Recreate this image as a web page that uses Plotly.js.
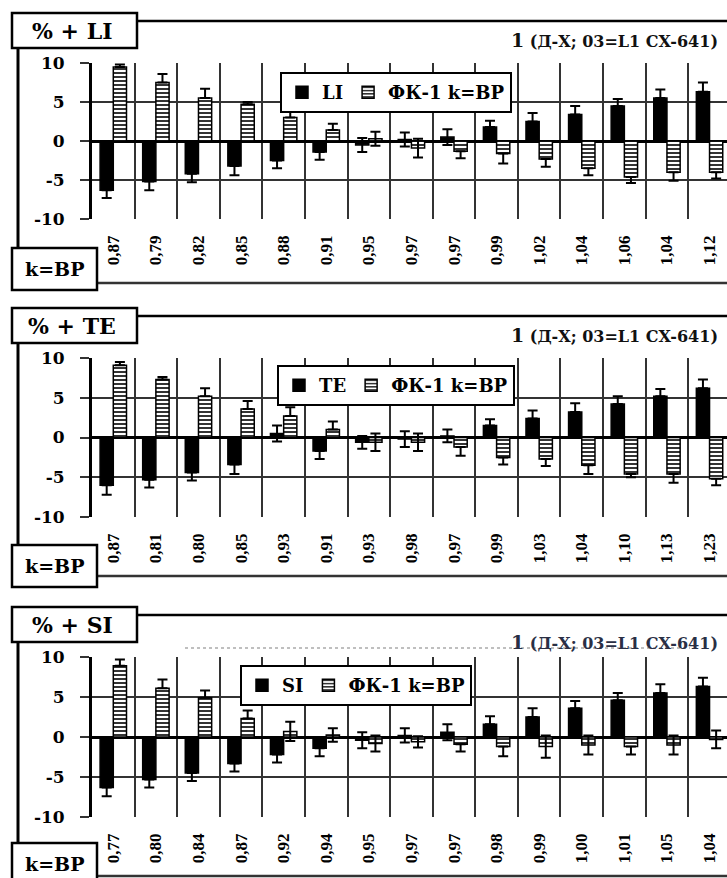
<!DOCTYPE html>
<html>
<head>
<meta charset="utf-8">
<script src="https://cdn.plot.ly/plotly-3.0.1.min.js"></script>
<style>html,body{margin:0;padding:0;background:#fff;}#chart{width:727px;height:878px;}</style>
</head>
<body>
<div id="chart"></div>
<script>
// ---------- data ----------
const cats1 = ['0,87','0,79','0,82','0,85','0,88','0,91','0,95','0,97','0,97','0,99','1,02','1,04','1,06','1,04','1,12'];
const li     = [-6.3,-5.2,-4.2,-3.2,-2.5,-1.4,-0.5,0.2,0.5,1.8,2.5,3.4,4.5,5.5,6.3];
const liErr  = [1.0,1.1,1.1,1.2,1.0,1.0,0.9,0.9,1.0,0.8,1.1,1.1,0.9,1.1,1.2];
const fk1    = [9.5,7.5,5.5,4.7,3.0,1.4,0.3,-0.9,-1.3,-1.6,-2.3,-3.5,-4.6,-4.0,-4.0];
const fk1Err = [0.3,1.1,1.2,0.3,1.0,0.8,0.9,1.2,0.9,1.3,1.0,0.9,0.8,1.1,0.8];

const cats2 = ['0,87','0,81','0,80','0,85','0,93','0,91','0,93','0,98','0,97','0,99','1,03','1,04','1,10','1,13','1,23'];
const te     = [-6.0,-5.3,-4.4,-3.4,0.5,-1.7,-0.6,-0.2,0.2,1.5,2.4,3.2,4.2,5.2,6.2];
const teErr  = [1.2,1.0,1.0,1.2,1.0,1.0,0.8,1.0,0.8,0.8,1.0,1.1,1.0,0.9,1.1];
const fk2    = [9.1,7.3,5.2,3.6,2.7,1.0,-0.6,-0.6,-1.2,-2.5,-2.7,-3.5,-4.6,-4.6,-5.2];
const fk2Err = [0.4,0.3,1.0,1.0,1.1,1.0,1.1,1.1,1.1,0.9,0.9,1.1,0.4,1.1,0.8];

const cats3 = ['0,77','0,80','0,84','0,87','0,92','0,94','0,95','0,97','0,97','0,98','0,99','1,00','1,01','1,05','1,04'];
const si     = [-6.3,-5.3,-4.5,-3.3,-2.2,-1.4,-0.4,0.2,0.6,1.6,2.5,3.6,4.6,5.5,6.3];
const siErr  = [1.1,1.0,1.0,1.0,1.0,1.0,1.0,0.9,1.0,1.0,1.1,0.9,0.9,1.1,1.1];
const fk3    = [8.9,6.1,4.9,2.3,0.7,0.25,-0.8,-0.6,-0.9,-1.2,-1.2,-1.0,-1.2,-1.0,-0.3];
const fk3Err = [0.8,1.1,0.9,1.0,1.2,0.85,1.0,0.7,0.9,1.2,1.4,1.2,1.0,1.2,1.1];

const yTickVals = [-10,-5,0,5,10];
const yTickText = ['-10','-5','0','5','10'];
const fkName = 'ФК-1 k=BP';
const subTitle = '(Д-Х; 03=L1 CX-641)';

// ---------- layout helpers ----------
const W = 727, H = 878;
const px = x => x / W;
const py = y => 1 - y / H;
const SERIF = 'DejaVu Serif';
const TIMES = 'Liberation Serif';

// error bars drawn outward only (inner half hidden as in the original), both ways for tiny bars
const errPlus  = (v, e) => v.map((d, i) => (d >= 0 || Math.abs(d) < e[i]) ? e[i] : 0);
const errMinus = (v, e) => v.map((d, i) => (d < 0 || Math.abs(d) < e[i]) ? e[i] : 0);

const panels = [
  {name:'LI', title:'% + LI', cats:cats1, a:li, ae:liErr, b:fk1, be:fk1Err,
   yTop:63, yBot:219, labelTop:13, kTop:248, bottom:283, subY:40, legX:280, legY:72},
  {name:'TE', title:'% + TE', cats:cats2, a:te, ae:teErr, b:fk2, be:fk2Err,
   yTop:358, yBot:517, labelTop:308, kTop:545, bottom:576, subY:335, legX:277, legY:365},
  {name:'SI', title:'% + SI', cats:cats3, a:si, ae:siErr, b:fk3, be:fk3Err,
   yTop:657, yBot:817, labelTop:607, kTop:843, bottom:876, subY:642, legX:240, legY:665}
];

const traces = [];
const layout = {
  width: W, height: H,
  margin: {l:0, r:0, t:0, b:0},
  paper_bgcolor: 'white', plot_bgcolor: 'white',
  barmode: 'group', bargap: 0.38, bargroupgap: 0,
  showlegend: true,
  shapes: [], annotations: []
};

panels.forEach((p, k) => {
  const n = k + 1;
  const sx = n === 1 ? '' : String(n);
  const xs = p.cats.map((_, i) => i);
  const leg = n === 1 ? 'legend' : 'legend' + n;
  traces.push({
    type:'bar', x: xs, y: p.a, name: p.name, xaxis:'x'+sx, yaxis:'y'+sx, legend: leg,
    marker:{color:'black', line:{color:'black', width:1.5}},
    error_y:{type:'data', symmetric:false, array:errPlus(p.a, p.ae), arrayminus:errMinus(p.a, p.ae),
             visible:true, color:'black', thickness:2, width:5}
  });
  traces.push({
    type:'bar', x: xs, y: p.b, name: fkName, xaxis:'x'+sx, yaxis:'y'+sx, legend: leg,
    marker:{color:'white', line:{color:'black', width:1.5},
            pattern:{shape:'-', fgcolor:'black', bgcolor:'white', size:4, solidity:0.4, fillmode:'replace'}},
    error_y:{type:'data', symmetric:false, array:errPlus(p.b, p.be), arrayminus:errMinus(p.b, p.be),
             visible:true, color:'black', thickness:2, width:5}
  });
  const bounds = [];
  for (let i = 0; i <= p.cats.length; i++) bounds.push(i - 0.5);
  layout['xaxis'+sx] = {
    domain:[px(92), 1], range:[-0.5, 14.41], anchor:'y'+sx,
    tickmode:'array', tickvals: xs, ticktext: p.cats, tickangle:-90,
    tickfont:{family:TIMES, size:17, weight:'bold', color:'black'},
    ticklabelstandoff: 12,
    showgrid:false, zeroline:false, showline:false, ticks:'', fixedrange:true,
    minor:{tickmode:'array', tickvals: bounds, showgrid:true, gridcolor:'#333', gridwidth:2, ticks:''}
  };
  layout['yaxis'+sx] = {
    domain:[py(p.yBot), py(p.yTop)], range:[-10,10], anchor:'x'+sx,
    tickmode:'array', tickvals:yTickVals, ticktext:yTickText,
    tickfont:{family:SERIF, size:17, weight:'bold', color:'black'},
    ticklabelstandoff: 12,
    showgrid:true, gridcolor:'#333', gridwidth:2,
    zeroline:true, zerolinecolor:'black', zerolinewidth:3,
    showline:true, linecolor:'black', linewidth:3,
    ticks:'outside', ticklen:9, tickwidth:2, tickcolor:'#333', fixedrange:true
  };
  layout[leg] = {
    x: px(p.legX), y: py(p.legY), xanchor:'left', yanchor:'top', orientation:'h',
    bgcolor:'white', bordercolor:'black', borderwidth:2,
    font:{family:SERIF, size:18, weight:'bold', color:'black'},
    itemwidth:30, tracegroupgap:0
  };
  // frame lines
  const line = (x0,y0,x1,y1,w,c) => layout.shapes.push({type:'line', xref:'paper', yref:'paper',
      x0:px(x0), y0:py(y0), x1:px(x1), y1:py(y1), line:{color:c||'black', width:w}});
  line(137, p.labelTop+8, 727, p.labelTop+8, 2.5);
  line(18, p.labelTop+35, 18, p.kTop, 3);
  line(97, p.bottom, 727, p.bottom, 2.5, '#333');
  layout.shapes.push({type:'rect', xref:'paper', yref:'paper', x0:px(12), x1:px(137),
    y0:py(p.labelTop), y1:py(p.labelTop+35), line:{color:'black', width:2.5}, fillcolor:'white'});
  layout.shapes.push({type:'rect', xref:'paper', yref:'paper', x0:px(12), x1:px(97),
    y0:py(p.kTop), y1:py(p.kTop+42), line:{color:'black', width:2.5}, fillcolor:'white'});
  layout.annotations.push({xref:'paper', yref:'paper', x:px(72), y:py(p.labelTop+18),
    xanchor:'center', yanchor:'middle', showarrow:false, text:p.title,
    font:{family:SERIF, size:22, weight:'bold', color:'black'}});
  layout.annotations.push({xref:'paper', yref:'paper', x:px(54), y:py(p.kTop+21),
    xanchor:'center', yanchor:'middle', showarrow:false, text:'k=BP',
    font:{family:SERIF, size:19, weight:'bold', color:'black'}});
  layout.annotations.push({xref:'paper', yref:'paper', x:px(720), y:py(p.subY),
    xanchor:'right', yanchor:'middle', showarrow:false,
    text:'<span style="font-size:19px">1</span> ' + subTitle,
    font:{family:SERIF, size:16, weight:'bold', color: n===3 ? '#2a2f45' : '#111'}});
});
// faint dotted line in third panel header
layout.shapes.push({type:'line', xref:'paper', yref:'paper', x0:px(185), x1:px(690),
  y0:py(648), y1:py(648), line:{color:'#aaa', width:1.5, dash:'dot'}});

Plotly.newPlot('chart', traces, layout, {displayModeBar:false, staticPlot:true});
</script>
</body>
</html>
